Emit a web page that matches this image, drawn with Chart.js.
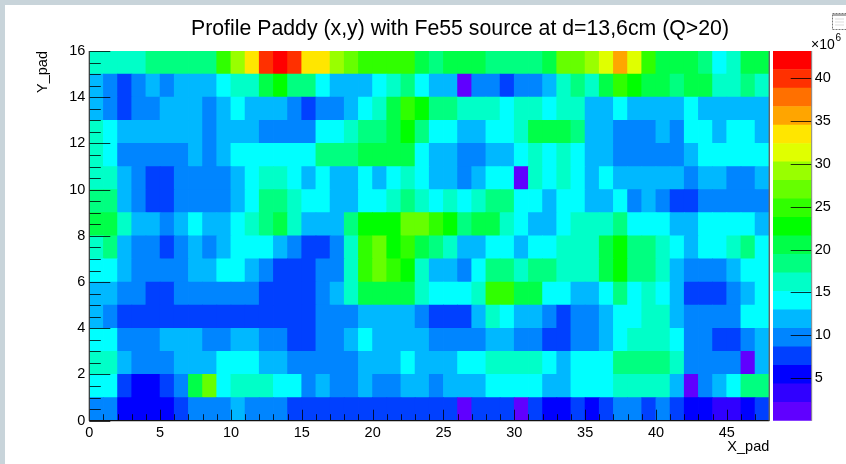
<!DOCTYPE html>
<html>
<head>
<meta charset="utf-8">
<title>Profile Paddy</title>
<script src="https://cdn.jsdelivr.net/npm/chart.js@4"></script>
<style>
html,body{margin:0;padding:0;width:846px;height:464px;overflow:hidden;background:#c8d4da}
#paper{position:absolute;left:5px;top:5px;width:841px;height:459px;background:#fff}
canvas{position:absolute;left:0;top:0}
#icon{position:absolute;left:832px;top:13px}
</style>
</head>
<body>
<div id="paper"></div>
<canvas id="main" width="846" height="464"></canvas>
<canvas id="bar" width="846" height="464"></canvas>
<svg id="icon" width="14" height="18" viewBox="0 0 14 18"><rect x=".5" y=".5" width="14" height="16" fill="#fff" stroke="#777" stroke-dasharray="2 1"/><rect x="1" y="1" width="13" height="2" fill="#aaa"/><path d="M3 6h9M3 9h9M3 12h9" stroke="#ddd"/></svg>
<script>
const chartTitle = "Profile Paddy (x,y) with Fe55 source at d=13,6cm (Q>20)";
const xTitle = "X_pad";
const yTitle = "Y_pad";
const nColumns = 48;
const nRows = 16;
const zMax = 43.2;
const colorTicks = [5,10,15,20,25,30,35,40];
const palette = ["#6000ff","#3000ff","#0000ff","#0040ff","#0085ff","#00b8ff","#00ffff","#00ffc8","#00ff80","#00ff48","#00ff00","#30ff00","#66ff00","#99ff00","#e0ff00","#ffe600","#ffa500","#ff7000","#ff3000","#ff0000"];

// counts per pad, in units of 10^6, row index = Y_pad bin
const row0 = [9.7,9.7,5.4,5.4,5.4,5.4,7.6,9.7, 9.7,9.7,11.9,9.7,9.7,9.7,7.6,7.6, 7.6,7.6,7.6,7.6,7.6,7.6,7.6,7.6, 7.6,7.6,1.1,7.6,7.6,7.6,1.1,7.6, 5.4,5.4,7.6,5.4,7.6,9.7,9.7,7.6, 9.7,7.6,5.4,5.4,3.2,3.2,5.4,7.6];
const row1 = [14,14,7.6,5.4,5.4,7.6,9.7,20.5, 27,14,16.2,16.2,16.2,14,14,9.7, 11.9,9.7,9.7,11.9,9.7,9.7,11.9,11.9, 9.7,11.9,11.9,11.9,14,14,14,14, 11.9,11.9,14,14,14,16.2,16.2,16.2, 16.2,11.9,1.1,9.7,11.9,14,18.4,18.4];
const row2 = [16.2,16.2,11.9,9.7,9.7,9.7,11.9,11.9, 11.9,14,14,14,11.9,11.9,9.7,9.7, 9.7,9.7,9.7,11.9,11.9,11.9,14,11.9, 11.9,11.9,14,14,16.2,16.2,16.2,16.2, 14,11.9,14,14,14,18.4,18.4,18.4, 18.4,16.2,9.7,9.7,9.7,9.7,1.1,11.9];
const row3 = [14,14,9.7,9.7,9.7,11.9,11.9,11.9, 9.7,9.7,11.9,11.9,9.7,9.7,7.6,7.6, 9.7,9.7,11.9,14,11.9,11.9,11.9,11.9, 9.7,9.7,9.7,9.7,11.9,11.9,9.7,9.7, 7.6,7.6,9.7,9.7,11.9,14,16.2,16.2, 16.2,14,9.7,9.7,7.6,7.6,9.7,11.9];
const row4 = [11.9,9.7,7.6,7.6,7.6,7.6,7.6,7.6, 7.6,7.6,7.6,7.6,7.6,7.6,7.6,7.6, 9.7,9.7,9.7,11.9,11.9,11.9,11.9,9.7, 7.6,7.6,7.6,11.9,16.2,14,11.9,11.9, 9.7,7.6,9.7,9.7,11.9,14,14,16.2, 16.2,11.9,9.7,9.7,9.7,9.7,14,14];
const row5 = [11.9,11.9,9.7,9.7,7.6,7.6,9.7,9.7, 9.7,9.7,9.7,9.7,7.6,7.6,7.6,7.6, 9.7,11.9,16.2,20.5,20.5,20.5,20.5,16.2, 14,14,14,16.2,24.8,24.8,20.5,20.5, 14,14,11.9,11.9,14,18.4,14,16.2, 14,11.9,7.6,7.6,7.6,9.7,11.9,14];
const row6 = [14,14,11.9,9.7,9.7,9.7,9.7,11.9, 11.9,14,14,11.9,9.7,7.6,7.6,7.6, 9.7,9.7,16.2,24.8,27,24.8,22.7,16.2, 11.9,11.9,9.7,14,18.4,18.4,16.2,18.4, 18.4,16.2,16.2,16.2,20.5,22.7,18.4,18.4, 16.2,11.9,9.7,9.7,9.7,11.9,14,14];
const row7 = [16.2,18.4,11.9,9.7,9.7,7.6,9.7,11.9, 9.7,11.9,14,14,14,11.9,9.7,7.6, 7.6,9.7,16.2,24.8,27,22.7,24.8,20.5, 18.4,16.2,11.9,11.9,14,14,11.9,14, 14,16.2,16.2,16.2,20.5,22.7,18.4,18.4, 16.2,14,11.9,14,14,16.2,18.4,14];
const row8 = [20.5,20.5,16.2,11.9,11.9,9.7,11.9,14, 11.9,11.9,14,16.2,18.4,20.5,16.2,11.9, 11.9,11.9,18.4,22.7,22.7,22.7,27,27, 24.8,22.7,18.4,20.5,20.5,16.2,14,11.9, 11.9,14,16.2,16.2,16.2,18.4,14,14, 14,11.9,11.9,14,14,14,14,11.9];
const row9 = [18.4,18.4,11.9,9.7,7.6,7.6,9.7,9.7, 9.7,9.7,11.9,14,18.4,18.4,16.2,14, 14,11.9,11.9,14,14,16.2,18.4,16.2, 14,16.2,14,16.2,18.4,18.4,14,14, 11.9,14,14,11.9,11.9,14,9.7,11.9, 9.7,7.6,7.6,9.7,9.7,9.7,9.7,9.7];
const row10 = [16.2,16.2,11.9,9.7,7.6,7.6,9.7,9.7, 9.7,9.7,11.9,14,16.2,16.2,14,11.9, 14,11.9,11.9,14,11.9,14,16.2,14, 11.9,11.9,9.7,11.9,14,14,1.1,16.2, 14,16.2,14,11.9,14,11.9,11.9,11.9, 11.9,11.9,9.7,11.9,11.9,9.7,9.7,11.9];
const row11 = [16.2,14,9.7,9.7,9.7,9.7,9.7,11.9, 9.7,11.9,14,14,14,14,14,14, 18.4,18.4,18.4,20.5,20.5,20.5,20.5,14, 11.9,11.9,9.7,9.7,11.9,11.9,14,16.2, 14,16.2,14,11.9,11.9,9.7,9.7,9.7, 9.7,9.7,11.9,14,14,14,14,14];
const row12 = [16.2,14,11.9,11.9,11.9,11.9,11.9,11.9, 9.7,11.9,11.9,11.9,9.7,9.7,9.7,9.7, 14,14,16.2,18.4,18.4,20.5,22.7,18.4, 14,14,11.9,11.9,14,14,16.2,20.5, 20.5,20.5,18.4,11.9,11.9,9.7,9.7,9.7, 11.9,9.7,14,14,11.9,14,14,11.9];
const row13 = [11.9,9.7,7.6,9.7,9.7,11.9,11.9,11.9, 9.7,11.9,14,11.9,11.9,11.9,9.7,7.6, 9.7,9.7,11.9,14,16.2,20.5,24.8,22.7, 18.4,18.4,16.2,16.2,16.2,14,16.2,16.2, 14,16.2,16.2,11.9,11.9,14,11.9,11.9, 11.9,11.9,14,11.9,11.9,11.9,11.9,11.9];
const row14 = [11.9,9.7,7.6,9.7,11.9,9.7,11.9,11.9, 11.9,14,16.2,16.2,20.5,22.7,18.4,18.4, 14,11.9,11.9,11.9,14,16.2,18.4,14, 11.9,11.9,1.1,9.7,9.7,7.6,9.7,9.7, 11.9,16.2,18.4,16.2,20.5,24.8,22.7,20.5, 20.5,18.4,20.5,20.5,16.2,16.2,18.4,16.2];
const row15 = [16.2,16.2,16.2,16.2,18.4,18.4,18.4,18.4, 18.4,24.8,29.2,33.5,40,42.1,40,33.5, 33.5,29.2,27,24.8,24.8,24.8,24.8,20.5, 18.4,20.5,20.5,20.5,18.4,18.4,18.4,18.4, 20.5,27,27,29.2,31.3,35.6,31.3,24.8, 20.5,20.5,20.5,18.4,14,16.2,20.5,20.5];
const rows = [row0,row1,row2,row3,row4,row5,row6,row7,row8,row9,row10,row11,row12,row13,row14,row15];

const FONT = "'Liberation Sans', Arial, sans-serif";
const band = zMax / palette.length;
const colorOf = v => palette[Math.min(palette.length-1, Math.floor(v / band))];

const heatDatasets = rows.map((values, r) => ({
  data: values.map((v, c) => ({x: c + 0.5, y: [r, r + 1]})),
  backgroundColor: values.map(colorOf),
  borderWidth: 0,
  grouped: false,
  barPercentage: 1,
  categoryPercentage: 1,
  inflateAmount: 0.4
}));

function line(ctx, x1, y1, x2, y2, color, w) {
  ctx.save();
  ctx.strokeStyle = color; ctx.lineWidth = w || 1;
  ctx.beginPath(); ctx.moveTo(x1, y1); ctx.lineTo(x2, y2); ctx.stroke();
  ctx.restore();
}

const frameTicks = {
  id: 'frameTicks',
  afterLayout(chart) {
    chart.titleBlock.left = 191;
    chart.titleBlock.right = 729;
  },
  afterDatasetsDraw(chart) {
    const {ctx, chartArea: a, scales: {x, y}} = chart;
    const dark = 'rgba(0,0,0,0.78)';
    x.ticks.forEach(t => {
      const px = Math.round(x.getPixelForValue(t.value)) + 0.5;
      const len = t.value % 5 === 0 ? 11 : 6.5;
      line(ctx, px, a.bottom, px, a.bottom - len, dark);
    });
    y.ticks.forEach(t => {
      const py = Math.round(y.getPixelForValue(t.value)) + 0.5;
      const len = t.value % 2 === 0 ? 21 : 11.5;
      line(ctx, a.left, py, a.left + len, py, dark);
    });
    line(ctx, a.left, a.top, a.left, a.bottom, '#333', 1.2);
    line(ctx, a.left, a.bottom, a.right, a.bottom, '#111', 1.2);
    line(ctx, a.right, a.top, a.right, a.bottom, '#666', 1.4);
  }
};

new Chart(document.getElementById('main'), {
  type: 'bar',
  data: {datasets: heatDatasets},
  plugins: [frameTicks],
  options: {
    responsive: false,
    animation: false,
    events: [],
    layout: {padding: {left: 0, top: 0, right: 76.7, bottom: 0}},
    plugins: {
      legend: {display: false},
      tooltip: {enabled: false},
      title: {
        display: true,
        text: chartTitle,
        color: '#000',
        font: {family: FONT, size: 21.3, weight: 'normal', lineHeight: 1},
        padding: {top: 18, bottom: 11.7}
      }
    },
    scales: {
      x: {
        type: 'linear',
        offset: false,
        min: 0,
        max: nColumns,
        afterFit(s) { s.height = 43.3; },
        grid: {display: false, drawTicks: false, offset: false},
        border: {display: false},
        ticks: {
          stepSize: 1,
          autoSkip: false,
          maxRotation: 0,
          padding: 4,
          color: '#000',
          font: {family: FONT, size: 14.5},
          callback: v => (v % 5 === 0 ? String(v) : '')
        },
        title: {
          display: true,
          text: xTitle,
          align: 'end',
          color: '#000',
          font: {family: FONT, size: 14.5},
          padding: {top: 0, bottom: 8}
        }
      },
      y: {
        type: 'linear',
        min: 0,
        max: nRows,
        afterFit(s) { s.width = 89.3; },
        grid: {display: false, drawTicks: false},
        border: {display: false},
        ticks: {
          stepSize: 0.5,
          autoSkip: false,
          padding: 4,
          color: '#000',
          font: {family: FONT, size: 14.5},
          callback: v => (v % 2 === 0 ? String(v) : '')
        },
        title: {
          display: true,
          text: yTitle,
          align: 'end',
          color: '#000',
          font: {family: FONT, size: 14.5},
          padding: {top: 34, bottom: 0}
        }
      }
    }
  }
});

const barTicks = {
  id: 'barTicks',
  afterDatasetsDraw(chart) {
    const {ctx, chartArea: a, scales: {y}} = chart;
    colorTicks.forEach(v => {
      const py = Math.round(y.getPixelForValue(v)) + 0.5;
      line(ctx, a.right - 21, py, a.right, py, 'rgba(0,0,0,0.78)');
    });
    line(ctx, a.right, a.top, a.right, a.bottom, '#888', 1);
    ctx.save();
    ctx.fillStyle = '#000';
    ctx.textBaseline = 'middle';
    ctx.font = "14px " + FONT;
    ctx.fillText("\u00d710", 811, 45.5);
    ctx.font = "10px " + FONT;
    ctx.fillText("6", 835.5, 38.5);
    ctx.restore();
  }
};

new Chart(document.getElementById('bar'), {
  type: 'bar',
  data: {
    labels: ['z'],
    datasets: palette.map((color, i) => ({
      data: [[i * band, (i + 1) * band]],
      backgroundColor: color,
      borderWidth: 0,
      grouped: false,
      barPercentage: 1,
      categoryPercentage: 1,
      inflateAmount: 0.3
    }))
  },
  plugins: [barTicks],
  options: {
    responsive: false,
    animation: false,
    events: [],
    layout: {padding: {left: 773, top: 51, right: 0, bottom: 43.3}},
    plugins: {legend: {display: false}, tooltip: {enabled: false}},
    scales: {
      x: {display: false},
      y: {
        position: 'right',
        min: 0,
        max: zMax,
        afterFit(s) { s.width = 34.3; },
        grid: {display: false, drawTicks: false},
        border: {display: false},
        ticks: {
          stepSize: 5,
          includeBounds: false,
          padding: 3,
          color: '#000',
          font: {family: FONT, size: 14.5},
          callback: v => (v === 0 ? '' : String(v))
        }
      }
    }
  }
});
</script>
</body>
</html>
